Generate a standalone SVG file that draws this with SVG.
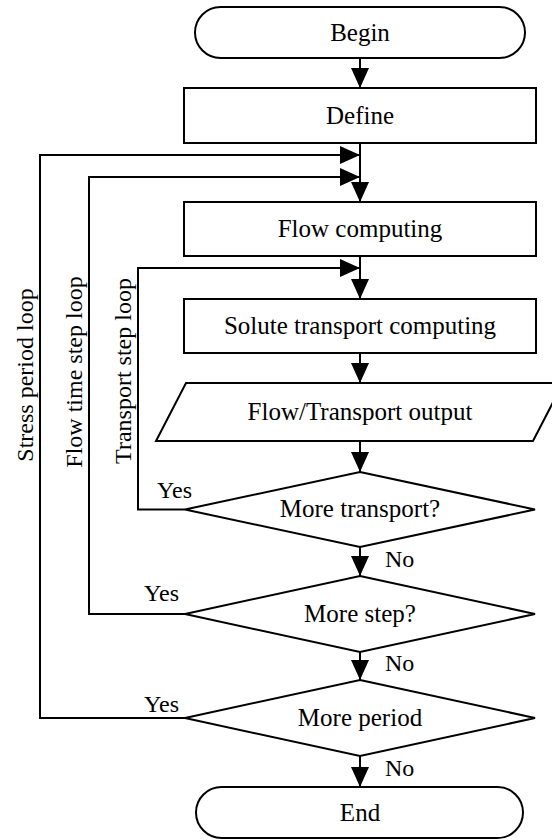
<svg xmlns="http://www.w3.org/2000/svg" width="552" height="840" viewBox="0 0 552 840">
  <style>
    .shape { fill: #ffffff; stroke: #000000; stroke-width: 2; }
    .wire { fill: none; stroke: #000000; stroke-width: 2; }
    text { font-family: 'Liberation Serif', 'Times New Roman', Times, 'DejaVu Serif', serif; fill: #000000; }
    .label { font-size: 25px; text-anchor: middle; }
    .side { font-size: 24px; }
  </style>
  <defs>
    <marker id="head" markerUnits="userSpaceOnUse" markerWidth="20" markerHeight="18" refX="20" refY="9" orient="auto">
      <path d="M0,0 L20,9 L0,18 Z" fill="#000000"/>
    </marker>
  </defs>
  <rect width="552" height="840" fill="#ffffff"/>

  <!-- connectors -->
  <g id="connectors">
    <line class="wire" x1="360" y1="58" x2="360" y2="88" marker-end="url(#head)"/>
    <line class="wire" x1="360" y1="143" x2="360" y2="202" marker-end="url(#head)"/>
    <line class="wire" x1="360" y1="256" x2="360" y2="299" marker-end="url(#head)"/>
    <line class="wire" x1="360" y1="353" x2="360" y2="383" marker-end="url(#head)"/>
    <line class="wire" x1="360" y1="441" x2="360" y2="472" marker-end="url(#head)"/>
    <line class="wire" x1="360" y1="547" x2="360" y2="576" marker-end="url(#head)"/>
    <line class="wire" x1="360" y1="652" x2="360" y2="680" marker-end="url(#head)"/>
    <line class="wire" x1="360" y1="756" x2="360" y2="787" marker-end="url(#head)"/>
    <!-- stress period loop -->
    <polyline class="wire" points="185,718 40,718 40,155 360,155" marker-end="url(#head)"/>
    <!-- flow time step loop -->
    <polyline class="wire" points="185,614 89,614 89,177 360,177" marker-end="url(#head)"/>
    <!-- transport step loop -->
    <polyline class="wire" points="185,509.5 138,509.5 138,268 360,268" marker-end="url(#head)"/>
  </g>

  <g id="begin">
    <rect class="shape" x="195" y="7" width="330" height="51" rx="25.5" ry="25.5"/>
    <text class="label" x="360" y="40.5">Begin</text>
  </g>
  <g id="define">
    <rect class="shape" x="184" y="88" width="352" height="55"/>
    <text class="label" x="360" y="124">Define</text>
  </g>
  <g id="flow-computing">
    <rect class="shape" x="184" y="202" width="352" height="54"/>
    <text class="label" x="360" y="237">Flow computing</text>
  </g>
  <g id="solute-transport">
    <rect class="shape" x="184" y="299" width="352" height="54"/>
    <text class="label" x="360" y="334">Solute transport computing</text>
  </g>
  <g id="output">
    <polygon class="shape" points="186,383 563,383 533,441 156,441"/>
    <text class="label" x="360" y="420">Flow/Transport output</text>
  </g>
  <g id="more-transport">
    <polygon class="shape" points="360,472 535,509.5 360,547 185,509.5"/>
    <text class="label" x="360" y="517">More transport?</text>
    <text class="side" x="192" y="498" text-anchor="end">Yes</text>
    <text class="side" x="385" y="567">No</text>
  </g>
  <g id="more-step">
    <polygon class="shape" points="360,576 535,614 360,652 185,614"/>
    <text class="label" x="360" y="622">More step?</text>
    <text class="side" x="179" y="601" text-anchor="end">Yes</text>
    <text class="side" x="385" y="671">No</text>
  </g>
  <g id="more-period">
    <polygon class="shape" points="360,680 535,718 360,756 185,718"/>
    <text class="label" x="360" y="726">More period</text>
    <text class="side" x="179" y="712" text-anchor="end">Yes</text>
    <text class="side" x="385" y="776">No</text>
  </g>
  <g id="end">
    <rect class="shape" x="196" y="787" width="327" height="51" rx="25.5" ry="25.5"/>
    <text class="label" x="360" y="820.5">End</text>
  </g>

  <!-- loop captions -->
  <g id="loop-labels">
    <text class="side" text-anchor="middle" transform="translate(33,375) rotate(-90)">Stress period loop</text>
    <text class="side" text-anchor="middle" transform="translate(82,372) rotate(-90)">Flow time step loop</text>
    <text class="side" text-anchor="middle" transform="translate(131,371) rotate(-90)">Transport step loop</text>
  </g>
</svg>
